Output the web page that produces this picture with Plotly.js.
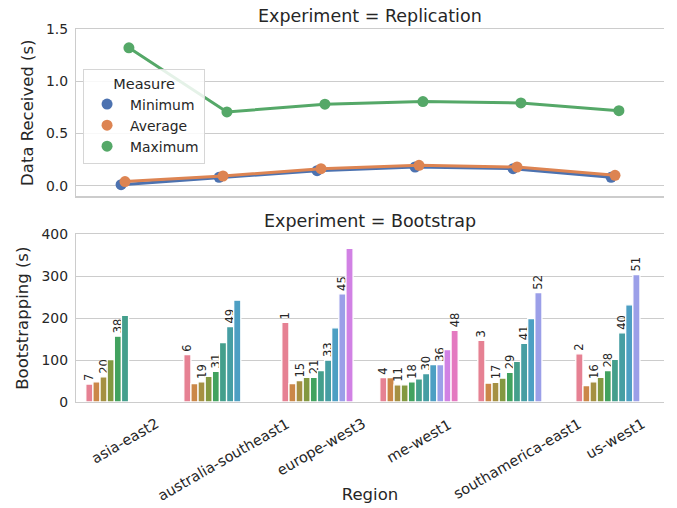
<!DOCTYPE html>
<html>
<head>
<meta charset="utf-8">
<script src="https://cdn.plot.ly/plotly-3.0.1.min.js"></script>
<style>html,body{margin:0;padding:0;background:#fff;}#chart{width:677px;height:508px;}</style>
</head>
<body>
<div id="chart"></div>
<script>
// ---------- data ----------
const regions = ['asia-east2','australia-southeast1','europe-west3','me-west1','southamerica-east1','us-west1'];
const measures = ['Minimum','Average','Maximum'];
const minReceived = [0.01, 0.08, 0.144, 0.179, 0.163, 0.08];
const avgReceived = [0.04, 0.093, 0.163, 0.195, 0.179, 0.099];
const maxReceived = [1.32, 0.706, 0.78, 0.805, 0.792, 0.718];

const bootAsiaEast2 = [43, 48, 60, 101, 157, 207];
const bootAustraliaSoutheast1 = [113, 44, 48, 61, 73, 142, 180, 243];
const bootEuropeWest3 = [190, 44, 51, 59, 59, 75, 100, 177, 258, 367];
const bootMeWest1 = [58, 58, 41, 41, 48, 55, 68, 89, 89, 125, 171];
const bootSouthamericaEast1 = [147, 45, 47, 57, 71, 97, 140, 199, 261];
const bootUsWest1 = [115, 39, 48, 59, 75, 102, 165, 232, 304];

const labelsAsiaEast2 = ['7','','20','','38',''];
const labelsAustraliaSoutheast1 = ['6','','19','','31','','49',''];
const labelsEuropeWest3 = ['1','','15','','21','','33','','45',''];
const labelsMeWest1 = ['4','','11','','18','','30','','36','','48'];
const labelsSouthamericaEast1 = ['3','','17','','29','','41','','52'];
const labelsUsWest1 = ['2','','16','','28','','40','','51'];

// ---------- palette (seaborn husl + desaturate 0.75) ----------
function huslToRgb(H,S,L){
  const m=[[3.2406,-1.5372,-0.4986],[-0.9689,1.8758,0.0415],[0.0557,-0.2040,1.0570]];
  const hrad=H*Math.PI/180, sinH=Math.sin(hrad), cosH=Math.cos(hrad);
  const sub1=Math.pow(L+16,3)/1560896; const sub2=sub1>0.008856?sub1:L/903.3;
  let res=Infinity;
  for(const [m1,m2,m3] of m){
    const top=(0.99915*m1+1.05122*m2+1.14460*m3)*sub2;
    const rb=0.86330*m3-0.17266*m2, lb=0.12949*m3-0.38848*m1;
    const bottom=(rb*sinH+lb*cosH)*sub2;
    for(const t of [0,1]){const C=L*(top-1.05122*t)/(bottom+0.17266*sinH*t); if(C>0&&C<res)res=C;}
  }
  const C=res/100*S, U=C*cosH, V=C*sinH;
  const tt=(L+16)/116; const Y=Math.pow(tt,3)>0.008856?Math.pow(tt,3):(116*tt-16)/903.3;
  const vU=U/(13*L)+0.19784, vV=V/(13*L)+0.46834;
  const X=-(9*Y*vU)/((vU-4)*vV-vU*vV); const Z=(9*Y-15*vV*Y-vV*X)/(3*vV);
  return m.map(r=>{const c=r[0]*X+r[1]*Y+r[2]*Z; const v=c<=0.0031308?12.92*c:1.055*Math.pow(c,1/2.4)-0.055; return Math.min(1,Math.max(0,v));});
}
function rgbToHls(r,g,b){const mx=Math.max(r,g,b),mn=Math.min(r,g,b);const l=(mx+mn)/2;if(mx===mn)return[0,l,0];
  const s=l<=0.5?(mx-mn)/(mx+mn):(mx-mn)/(2-mx-mn);const rc=(mx-r)/(mx-mn),gc=(mx-g)/(mx-mn),bc=(mx-b)/(mx-mn);
  let h; if(r===mx)h=bc-gc; else if(g===mx)h=2+rc-bc; else h=4+gc-rc; h=((h/6)%1+1)%1; return [h,l,s];}
function v_(m1,m2,h){h=((h%1)+1)%1;if(h<1/6)return m1+(m2-m1)*h*6;if(h<0.5)return m2;if(h<2/3)return m1+(m2-m1)*(2/3-h)*6;return m1;}
function hlsToRgb(h,l,s){if(s===0)return[l,l,l];const m2=l<=0.5?l*(1+s):l+s-l*s;const m1=2*l-m2;return[v_(m1,m2,h+1/3),v_(m1,m2,h),v_(m1,m2,h-1/3)];}
function toHex(c){return '#'+c.map(x=>Math.round(x*255).toString(16).padStart(2,'0')).join('');}
function huslPalette(n){const out=[];for(let i=0;i<n;i++){let h=(i/n+0.01)%1;h*=359;const rgb=huslToRgb(h,0.9*99,0.65*99);
  const hls=rgbToHls(...rgb);out.push(toHex(hlsToRgb(hls[0],hls[1],hls[2]*0.75)));}return out;}

const bootByRegion = [bootAsiaEast2,bootAustraliaSoutheast1,bootEuropeWest3,bootMeWest1,bootSouthamericaEast1,bootUsWest1];
const labelsByRegion = [labelsAsiaEast2,labelsAustraliaSoutheast1,labelsEuropeWest3,labelsMeWest1,labelsSouthamericaEast1,labelsUsWest1];
const nHue = Math.max(...bootByRegion.map(a=>a.length));
const barColors = huslPalette(nHue);
const pointColors = ['#4c72b0','#dd8452','#55a868'];
const txt = '#262626', grid = '#cccccc';
const F = 'DejaVu Sans, sans-serif';

const traces = [];
const series = [minReceived, avgReceived, maxReceived];
series.forEach((ys,i)=>{
  traces.push({type:'scatter',mode:'lines',x:regions,y:ys,xaxis:'x',yaxis:'y',offsetgroup:'g'+i,
    line:{color:pointColors[i],width:3},showlegend:false,hoverinfo:'skip'});
  traces.push({type:'scatter',mode:'markers',x:regions,y:ys,xaxis:'x',yaxis:'y',offsetgroup:'g'+i,name:measures[i],
    marker:{color:pointColors[i],size:11},showlegend:true});
});
for(let k=0;k<nHue;k++){
  traces.push({type:'bar',x:regions,y:bootByRegion.map(a=>k<a.length?a[k]:null),
    text:labelsByRegion.map(a=>k<a.length?a[k]:''),textposition:'outside',textangle:-90,constraintext:'none',cliponaxis:false,
    textfont:{size:11.5,color:txt,family:F},xaxis:'x2',yaxis:'y2',showlegend:false,
    marker:{color:barColors[k],line:{color:'#ffffff',width:1.3}}});
}

const plotTop=29.3, plotBot=402.3, H=plotBot-plotTop;
const topDom=[(plotBot-196.7)/H,1], botDom=[0,(plotBot-234.7)/H];

const annotations = [
  {text:'Experiment = Replication',xref:'paper',yref:'paper',x:0.5,y:1,xanchor:'center',yanchor:'bottom',yshift:1,showarrow:false,font:{size:17.5,color:txt,family:F}},
  {text:'Experiment = Bootstrap',xref:'paper',yref:'paper',x:0.5,y:botDom[1],xanchor:'center',yanchor:'bottom',yshift:1,showarrow:false,font:{size:17.5,color:txt,family:F}}
];
regions.forEach(r=>annotations.push({text:r,xref:'x2',yref:'paper',x:r,y:0,xanchor:'center',yanchor:'top',yshift:-11,textangle:-30,showarrow:false,font:{size:14.5,color:txt,family:F}}));

const axY = {showgrid:true,gridcolor:grid,gridwidth:1,showline:true,linecolor:grid,linewidth:1.25,zeroline:false,ticks:'',
  tickfont:{size:13.9,color:txt,family:F},ticklabelstandoff:4};
const layout = {
  width:677,height:508,paper_bgcolor:'#fff',plot_bgcolor:'#fff',
  margin:{l:76,r:13,t:plotTop,b:508-plotBot,pad:0},
  font:{family:F,color:txt},
  scattermode:'group',scattergap:0.88,
  barmode:'group',bargap:0.2,bargroupgap:0,
  xaxis:{domain:[0,1],anchor:'y',type:'category',categoryarray:regions,showticklabels:false,showgrid:false,showline:true,mirror:true,linecolor:grid,linewidth:1.25,zeroline:false,ticks:''},
  yaxis:Object.assign({},axY,{domain:topDom,anchor:'x',range:[-0.1024,1.5],tickvals:[0,0.5,1.0,1.5],ticktext:['0.0','0.5','1.0','1.5'],
    title:{text:'Data Received (s)',font:{size:16.5,color:txt,family:F},standoff:8}}),
  xaxis2:{domain:[0,1],anchor:'y2',type:'category',categoryarray:regions,showticklabels:false,showgrid:false,showline:true,mirror:true,linecolor:grid,linewidth:1.25,zeroline:false,ticks:'',
    title:{text:'Region',font:{size:16.5,color:txt,family:F},standoff:86}},
  yaxis2:Object.assign({},axY,{domain:botDom,anchor:'x2',range:[0,400],tickvals:[0,100,200,300,400],
    title:{text:'Bootstrapping (s)',font:{size:16.5,color:txt,family:F},standoff:8}}),
  legend:{x:0.012,y:(plotBot-69)/H,xanchor:'left',yanchor:'top',bgcolor:'rgba(255,255,255,0.85)',bordercolor:'#d6d6d6',borderwidth:1,
    font:{size:13.9,color:txt,family:F},title:{text:'Measure',side:'top center',font:{size:14.5,color:txt,family:F}},tracegroupgap:0,itemwidth:36},
  annotations:annotations,
  showlegend:true
};
Plotly.newPlot('chart',traces,layout,{displayModeBar:false,staticPlot:true});
</script>
</body>
</html>
